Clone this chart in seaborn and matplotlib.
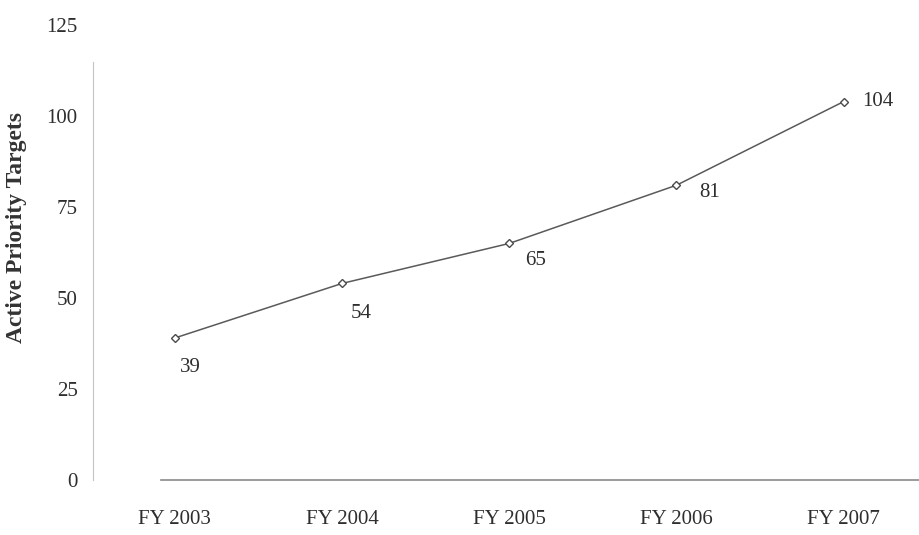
""" Active priority targets by fiscal year """

import pandas as pd
import matplotlib
matplotlib.use("Agg")
import matplotlib.pyplot as plt
import seaborn as sns

# Data
years = ["FY 2003", "FY 2004", "FY 2005", "FY 2006", "FY 2007"]
targets = [39, 54, 65, 81, 104]
yticks = [0, 25, 50, 75, 100, 125]

df = pd.DataFrame({"Year": years, "Targets": targets})

sns.set_style("white")
plt.rcParams["font.family"] = ["Liberation Serif", "DejaVu Serif"]

fig = plt.figure(figsize=(9.19, 5.35), dpi=100)
ax = fig.add_axes([0.101, 0.103, 0.899, 0.850])

sns.lineplot(data=df, x="Year", y="Targets", ax=ax, color="#5a5a5a", linewidth=1.1,
             marker="D", markersize=4.5, markerfacecolor="white",
             markeredgecolor="#4a4a4a", markeredgewidth=1.0)

# value labels, offset like in the original (points)
offsets = [(11.5, -21), (13.7, -21.6), (18.7, -12.2), (23.8, -5), (24.5, 0)]
for i, (v, off) in enumerate(zip(targets, offsets)):
    ax.annotate(str(v), (i, v), xytext=off, textcoords="offset points",
                ha="center", va="center", fontsize=15, color="#2e2e2e")

ax.set_xlim(-0.49, 4.45)
ax.set_ylim(0, 125)
ax.set_yticks(yticks)
ax.set_ylabel("Active Priority Targets", fontsize=17, fontweight="bold", color="#333333")
ax.yaxis.set_label_coords(-0.08, 0.554)
ax.set_xlabel("")
ax.tick_params(axis="y", length=0, pad=11, labelsize=15, labelcolor="#2e2e2e")
ax.tick_params(axis="x", length=0, pad=22, labelsize=15, labelcolor="#2e2e2e")

sns.despine(ax=ax, top=True, right=True)
ax.spines["left"].set_color("#c4c4c4")
ax.spines["left"].set_linewidth(0.8)
ax.spines["left"].set_bounds(0, 115)
ax.spines["bottom"].set_color("#8a8a8a")
ax.spines["bottom"].set_linewidth(1.2)
ax.spines["bottom"].set_bounds(-0.08, 4.45)

plt.savefig("out.png", dpi=100)
